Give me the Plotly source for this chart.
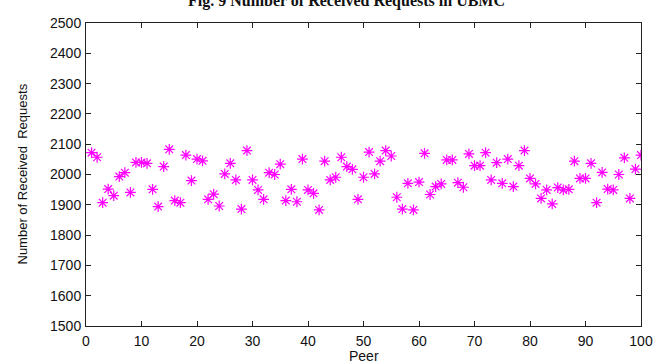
import plotly.graph_objects as go

peers = list(range(1, 101))
requests = [
    2072, 2057, 1907, 1952, 1930, 1993, 2006, 1941, 2040, 2040,
    2037, 1951, 1894, 2026, 2083, 1914, 1907, 2064, 1980, 2051,
    2045, 1918, 1935, 1896, 2002, 2037, 1982, 1886, 2079, 1982,
    1949, 1918, 2006, 2000, 2034, 1914, 1951, 1910, 2051, 1949,
    1938, 1883, 2044, 1982, 1991, 2057, 2026, 2017, 1918, 1991,
    2074, 2002, 2044, 2079, 2061, 1925, 1886, 1971, 1883, 1975,
    2070, 1934, 1960, 1969, 2048, 2048, 1973, 1958, 2068, 2029,
    2029, 2072, 1982, 2039, 1971, 2051, 1960, 2029, 2079, 1987,
    1969, 1921, 1949, 1903, 1957, 1949, 1951, 2044, 1987, 1987,
    2037, 1907, 2007, 1952, 1949, 2000, 2055, 1921, 2018, 2064,
]
x_ticks = [0, 10, 20, 30, 40, 50, 60, 70, 80, 90, 100]
y_ticks = [1500, 1600, 1700, 1800, 1900, 2000, 2100, 2200, 2300, 2400, 2500]

fig = go.Figure()
fig.add_trace(go.Scatter(
    x=peers, y=requests, mode="markers",
    marker=dict(symbol="asterisk-open", size=9, color="#ff00ff",
                line=dict(color="#ff00ff", width=1.2)),
    showlegend=False,
))

font_lbl = dict(family="Liberation Sans, Arial", size=14, color="#111")
axis_common = dict(
    showgrid=False, zeroline=False, showline=True, linecolor="#222",
    linewidth=1, mirror="ticks", ticks="inside", ticklen=5,
    tickcolor="#222", tickfont=font_lbl, automargin=False,
)

fig.update_layout(
    width=665, height=364,
    margin=dict(l=86, r=24, t=23, b=38),
    paper_bgcolor="white", plot_bgcolor="white",
    xaxis=dict(range=[0, 100], tickvals=x_ticks, **axis_common,
               ticklabelstandoff=2),
    yaxis=dict(range=[1500, 2500], tickvals=y_ticks, **axis_common,
               ticklabelstandoff=1),
    annotations=[
        dict(text="<b>Fig. 9 Number of Received Requests in UBMC</b>",
             xref="paper", yref="paper", x=0.47, y=1, xanchor="center",
             yanchor="middle", yshift=22, showarrow=False,
             font=dict(family="Liberation Serif, Times New Roman", size=16, color="#111")),
        dict(text="Peer", xref="paper", yref="paper", x=0.5, y=0,
             xanchor="center", yanchor="middle", yshift=-30, showarrow=False,
             font=font_lbl),
        dict(text="Number of Received  Requests", xref="paper", yref="paper",
             x=0, y=0.5, xanchor="center", yanchor="middle", xshift=-64,
             textangle=-90, showarrow=False,
             font=dict(family="Liberation Sans, Arial", size=13, color="#111")),
    ],
)

fig.write_html("out.html")
